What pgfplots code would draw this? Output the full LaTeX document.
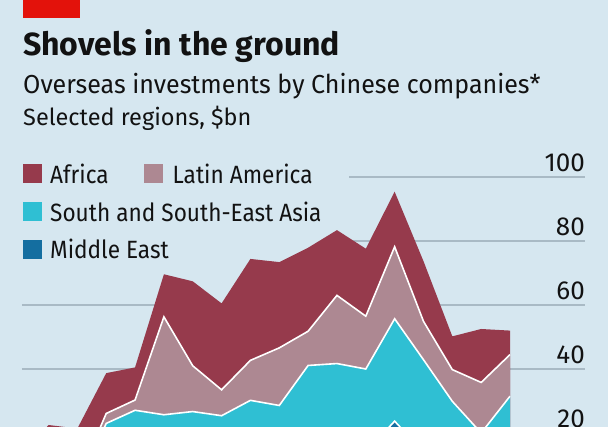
\documentclass[border=0pt]{standalone}
\usepackage{fontspec}
\setmainfont{Fira Sans}
\usepackage{pgfplots}
\usepackage{pgfplotstable}
\pgfplotsset{compat=1.18}

\definecolor{bg}{HTML}{D6E7F0}
\definecolor{afr}{HTML}{963A4C}
\definecolor{lat}{HTML}{AD8892}
\definecolor{asia}{HTML}{2FBFD3}
\definecolor{mideast}{HTML}{146EA0}
\definecolor{gridc}{HTML}{A9BAC5}
\definecolor{ecored}{HTML}{E3120B}
\definecolor{ink}{HTML}{121212}

% stacked tops, $bn (Middle East, + Asia, + Latin America, + Africa)
\pgfplotstableread{
year metop asiatop lattop afrtop
2005 0.5  2.0  4.0 12.0
2006 1.0  3.0  6.0 22.5
2007 1.0  3.0  5.0 21.4
2008 4.0 23.0 26.1 38.7
2009 5.0 27.1 30.3 40.5
2010 6.0 25.7 56.3 69.6
2011 7.0 26.7 41.0 67.4
2012 7.0 25.4 33.5 60.5
2013 8.0 30.2 42.7 74.4
2014 9.0 28.6 46.6 73.4
2015 12.0 41.1 51.8 77.9
2016 12.0 41.7 63.0 83.4
2017 14.0 40.0 56.5 77.6
2018 23.7 55.7 78.2 95.4
2019 14.0 42.9 54.9 73.7
2020 8.0 29.9 39.8 50.2
2021 8.0 20.0 35.8 52.5
2022 10.0 31.5 44.5 52.0
}\invest

\begin{document}
\begin{tikzpicture}[x=1pt,y=1pt]
\useasboundingbox (0,0) rectangle (608,427);
\clip (0,0) rectangle (608,427);
\fill[bg] (0,0) rectangle (608,427);
\fill[ecored] (23,409) rectangle (80,427);

\node[anchor=base west, inner sep=0, text=ink] at (23,371.3)
  {\fontsize{32}{36}\selectfont\bfseries Shovels in the ground};
\node[anchor=base west, inner sep=0, text=ink] at (23,333)
  {\scalebox{0.962}[1]{\fontsize{26}{30}\selectfont Overseas investments by Chinese companies*}};
\node[anchor=base west, inner sep=0, text=ink] at (23,301)
  {\fontsize{23.5}{28}\selectfont Selected regions, \$bn};

\begin{axis}[
    at={(22pt,-70pt)}, anchor=south west,
    scale only axis, width=563pt, height=352pt,
    xmin=2005.08, xmax=2024.6,
    ymin=0, ymax=110,
    axis line style={draw=none},
    major tick style={draw=none},
    xtick=\empty,
    ytick={20,40,60,80,100},
    yticklabel pos=right,
    /pgf/number format/assume math mode=true,
    yticklabel style={anchor=south east, inner sep=0pt, yshift=5pt,
      text=ink, font=\fontsize{26}{30}\selectfont},
  ]
  \draw[gridc, line width=1.3pt] (axis cs:2005.08,20) -- (axis cs:2024.6,20);
  \draw[gridc, line width=1.3pt] (axis cs:2005.08,40) -- (axis cs:2024.6,40);
  \draw[gridc, line width=1.3pt] (axis cs:2005.08,60) -- (axis cs:2024.6,60);
  \draw[gridc, line width=1.3pt] (axis cs:2016.42,80) -- (axis cs:2024.6,80);
  \draw[gridc, line width=1.3pt] (axis cs:2016.42,100) -- (axis cs:2024.6,100);

  \addplot[fill=afr, draw=none] table[x=year, y=afrtop] {\invest} \closedcycle;
  \addplot[fill=lat, draw=none] table[x=year, y=lattop] {\invest} \closedcycle;
  \addplot[draw=white, line width=1.6pt] table[x=year, y=lattop] {\invest};
  \addplot[fill=asia, draw=none] table[x=year, y=asiatop] {\invest} \closedcycle;
  \addplot[draw=white, line width=1.6pt] table[x=year, y=asiatop] {\invest};
  \addplot[fill=mideast, draw=none] table[x=year, y=metop] {\invest} \closedcycle;
  \addplot[draw=white, line width=1.6pt] table[x=year, y=metop] {\invest};
\end{axis}

% legend
\begin{scope}[every node/.style={anchor=base west, inner sep=0, text=ink,
    font=\fontsize{25}{30}\selectfont}]
  \fill[afr] (22.7,244) rectangle (41.7,263);
  \node at (50,243) {\scalebox{0.905}[1]{Africa}};
  \fill[lat] (144,244) rectangle (163,263);
  \node at (172.5,243) {\scalebox{0.905}[1]{Latin America}};
  \fill[asia] (22.7,205.5) rectangle (41.7,224.5);
  \node at (50,205) {\scalebox{0.905}[1]{South and South-East Asia}};
  \fill[mideast] (22.7,167.5) rectangle (41.7,186.5);
  \node at (50,168) {\scalebox{0.905}[1]{Middle East}};
\end{scope}
\end{tikzpicture}
\end{document}
